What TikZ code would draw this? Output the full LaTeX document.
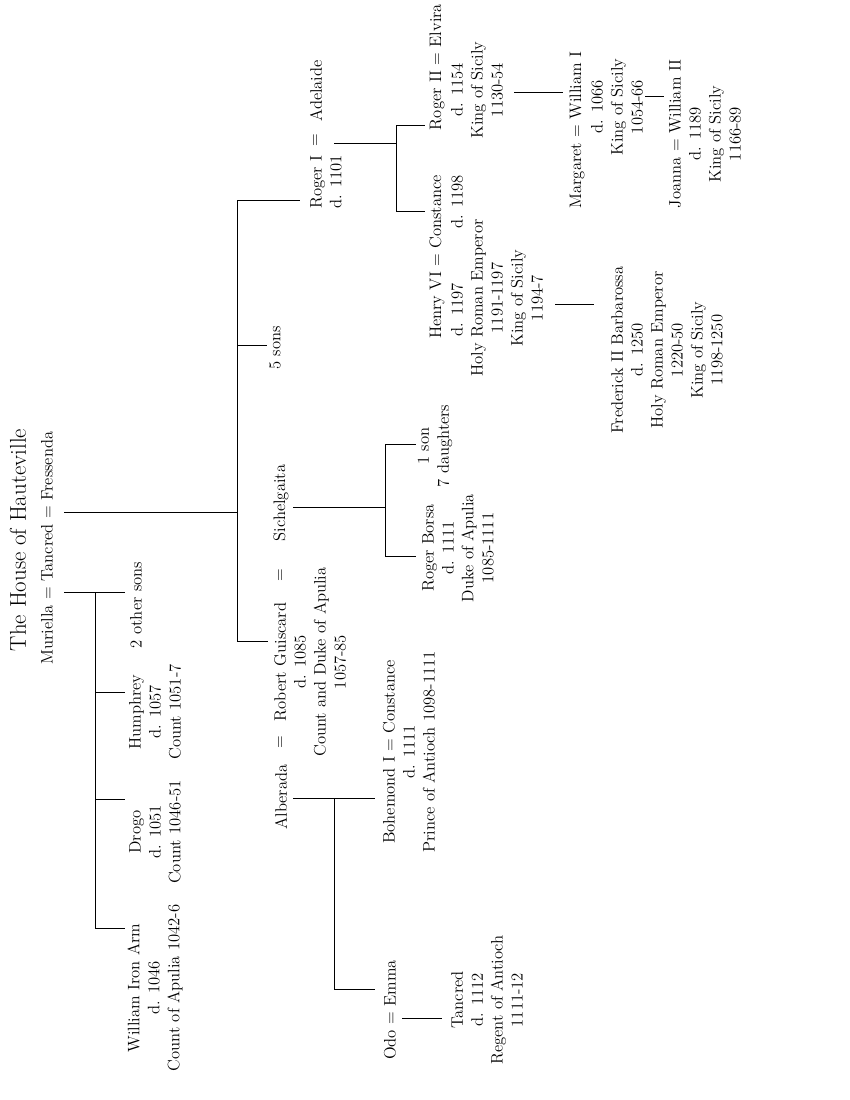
\documentclass[tikz,border=0pt]{standalone}
\usetikzlibrary{positioning}

\begin{document}
\begin{tikzpicture}[x=0.01in, y=-0.01in, line width=0.6pt,
    person/.style={rotate=90, align=center, inner sep=1pt, font=\fontsize{12}{14.4}\selectfont}]
    \useasboundingbox (0,0) rectangle (850,1100);

    % 1. Title and first couple
    \node[person, font=\fontsize{16.5}{19}\selectfont] (title) at (18,540) {The House of Hauteville};
    \node[person] (tancred) at (47,548) {Muriella = Tancred = Fressenda};

    % 2. Sons of Muriella
    \node[person] (william) at (155,988) {William Iron Arm\\d. 1046\\Count of Apulia 1042-6};
    \node[person] (drogo) at (155,832) {Drogo\\d. 1051\\Count 1046-51};
    \node[person] (humphrey) at (155,712) {Humphrey\\d. 1057\\Count 1051-7};
    \node[person] (othersons) at (136,605) {2 other sons};

    % 3. Sons of Fressenda
    \node[person] (alberada) at (281,797) {Alberada};
    \node[person] (eqA) at (281,742) {=};
    \node[person] (robert) at (310,662) {Robert Guiscard\\d. 1085\\Count and Duke of Apulia\\1057-85};
    \node[person] (eqB) at (281,575) {=};
    \node[person] (sichelgaita) at (281,503) {Sichelgaita};
    \node[person] (fivesons) at (275,348) {5 sons};
    \node[person] (rogerI) at (326,182) {Roger I\\d. 1101};
    \node[person] (eqC) at (316,140) {=};
    \node[person] (adelaide) at (316,91) {Adelaide};

    % 4. Children of Robert Guiscard
    \node[person] (bohemond) at (409,752) {Bohemond I = Constance\\d. 1111\\Prince of Antioch 1098-1111};
    \node[person] (odo) at (390,1010) {Odo = Emma};
    \node[person] (tancredII) at (487,1000) {Tancred\\d. 1112\\Regent of Antioch\\1111-12};
    \node[person] (borsa) at (458,548) {Roger Borsa\\d. 1111\\Duke of Apulia\\1085-1111};
    \node[person] (oneson) at (435,446) {1 son\\7 daughters};

    % 5. Children of Roger I
    \node[person] (rogerII) at (437,67) {Roger II = Elvira};
    \node[person] (rogerIIinfo) at (477,90) {d. 1154\\King of Sicily\\1130-54};
    \node[person] (henry) at (437,257) {Henry VI = Constance};
    \node[person] (henrydied) at (457,310) {d. 1197};
    \node[person] (constdied) at (457,202) {d. 1198};
    \node[person] (henryinfo) at (507,298) {Holy Roman Emperor\\1191-1197\\King of Sicily\\1194-7};
    \node[person] (margaret) at (577,130) {Margaret = William I};
    \node[person] (williamIinfo) at (617,107) {d. 1066\\King of Sicily\\1054-66};
    \node[person] (joanna) at (705,134) {Joanna = William II\\d. 1189\\King of Sicily\\1166-89};
    \node[person] (frederick) at (667,350) {Frederick II Barbarossa\\d. 1250\\Holy Roman Emperor\\1220-50\\King of Sicily\\1198-1250};

    % 6. Connecting lines
    \coordinate (fress) at (64,512);
    \coordinate (trunk) at (237,512);
    \draw (fress) -- (trunk);
    \draw (237,200) -- (237,641);
    \draw (237,200) -- (300,200);
    \draw (237,345) -- (267,345);
    \draw (237,641) -- (268,641);

    \coordinate (muri) at (64,592);
    \draw (muri) -- (125,592);
    \draw (95,592) -- (95,928);
    \draw (95,692) -- (125,692);
    \draw (95,799) -- (125,799);
    \draw (95,928) -- (125,928);

    \draw (293,507) -- (385,507);
    \draw (385,444) -- (385,556);
    \draw (385,444) -- (416,444);
    \draw (385,556) -- (416,556);

    \draw (293,798) -- (375,798);
    \draw (334,798) -- (334,989) -- (375,989);
    \draw (402,1018) -- (442,1018);

    \draw (334,143) -- (396,143);
    \draw (396,125) -- (396,211);
    \draw (396,125) -- (425,125);
    \draw (396,211) -- (425,211);

    \draw (514,92) -- (563,92);
    \draw (645,96) -- (664,96);
    \draw (555,304) -- (594,304);

\end{tikzpicture}
\end{document}
